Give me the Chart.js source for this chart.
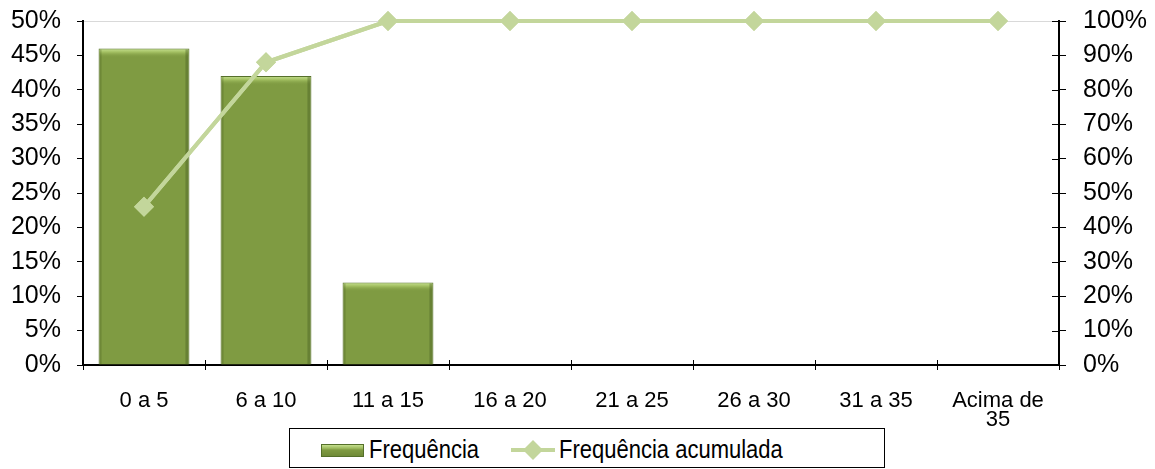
<!DOCTYPE html>
<html>
<head>
<meta charset="utf-8">
<script src="https://cdn.jsdelivr.net/npm/chart.js@4.4.1/dist/chart.umd.min.js"></script>
<style>
  html, body { margin: 0; padding: 0; background: #fff; }
  #wrap { position: relative; width: 1155px; height: 469px; }
  #legend {
    position: absolute; left: 289px; top: 428px; width: 596px; height: 40px;
    border: 1px solid #000; box-sizing: border-box; background: #fff;
    font-family: "Liberation Sans", Arial, sans-serif; font-size: 22px; color: #000;
  }
  #legend span { position: absolute; top: 10px; line-height: 22px; transform: scaleY(1.15); transform-origin: left center; }
  .swBar {
    position: absolute; left: 31px; top: 15px; width: 43px; height: 13px;
    background: linear-gradient(#c5e08e 0, #9dba5e 30%, #7f9b42 45%, #6f8a37 100%);
    border: 1px solid #55702a; box-sizing: border-box;
  }
</style>
</head>
<body>
<div id="wrap">
  <canvas id="myChart" width="1155" height="469"></canvas>
  <div id="legend">
    <div class="swBar"></div>
    <span style="left:79px">Frequência</span>
    <svg style="position:absolute;left:221px;top:10px" width="44" height="22">
      <line x1="0" y1="11" x2="44" y2="11" stroke="#c3d69b" stroke-width="4"/>
      <polygon points="22,1 32,11 22,21 12,11" fill="#c3d69b"/>
    </svg>
    <span style="left:269px">Frequência acumulada</span>
  </div>
</div>
<script>
const categories = ['0 a 5', '6 a 10', '11 a 15', '16 a 20', '21 a 25', '26 a 30', '31 a 35', ['Acima de', '35']];
const frequencia = [46, 42, 12, 0, 0, 0, 0, 0];
const acumulada = [46, 88, 100, 100, 100, 100, 100, 100];

const font = { family: '"Liberation Sans", Arial, sans-serif', size: 25 };
const xFont = { family: '"Liberation Sans", Arial, sans-serif', size: 22, lineHeight: 0.88 };

// little bevel on top of each bar + ticks that cross the axes
const extras = {
    id: 'extras',
    afterDatasetsDraw(chart) {
        const ctx = chart.ctx;
        const meta = chart.getDatasetMeta(0);
        meta.data.forEach((bar, i) => {
            if (!frequencia[i]) return;
            const left = bar.x - bar.width / 2 + 1;
            const w = bar.width - 2;
            const g = ctx.createLinearGradient(0, bar.y, 0, bar.y + 9);
            g.addColorStop(0, '#c8e393');
            g.addColorStop(0.4, '#a3c062');
            g.addColorStop(1, 'rgba(127,155,66,0)');
            ctx.save();
            ctx.fillStyle = g;
            ctx.fillRect(left, bar.y + 1, w, 9);
            ctx.fillStyle = 'rgba(60,80,25,0.35)';
            ctx.fillRect(bar.x + bar.width / 2 - 4, bar.y + 1, 3, bar.base - bar.y - 1);
            ctx.fillStyle = 'rgba(60,80,25,0.25)';
            ctx.fillRect(left, bar.y + 1, 2, bar.base - bar.y - 1);
            ctx.restore();
        });
        // line over bars again so it stays on top of the bevels
        chart.getDatasetMeta(1).controller.draw();
    },
    afterDraw(chart) {
        const ctx = chart.ctx;
        const area = chart.chartArea;
        const x = chart.scales.x;
        const yr = chart.scales.y1;
        ctx.save();
        ctx.strokeStyle = '#000';
        ctx.lineWidth = 1;
        ctx.beginPath();
        const step = (area.right - area.left) / categories.length;
        for (let i = 0; i <= categories.length; i++) {
            const px = Math.round(x.getPixelForValue(i) - step / 2) + 0.5;
            ctx.moveTo(px, area.bottom - 5);
            ctx.lineTo(px, area.bottom);
        }
        yr.ticks.forEach((t) => {
            const py = Math.round(yr.getPixelForValue(t.value)) + 0.5;
            ctx.moveTo(area.right - 7, py);
            ctx.lineTo(area.right, py);
        });
        ctx.stroke();
        ctx.restore();
    }
};

new Chart(document.getElementById('myChart').getContext('2d'), {
    type: 'bar',
    data: {
        labels: categories,
        datasets: [
            {
                label: 'Frequência',
                data: frequencia,
                backgroundColor: '#7f9b42',
                borderColor: '#56702b',
                borderWidth: (c) => (c.raw ? 1 : 0),
                barPercentage: 0.745,
                categoryPercentage: 1,
                yAxisID: 'y',
                order: 2,
            },
            {
                label: 'Frequência acumulada',
                type: 'line',
                data: acumulada,
                borderColor: '#c3d69b',
                backgroundColor: '#c3d69b',
                borderWidth: 4,
                pointStyle: 'rectRot',
                pointRadius: 10,
                pointHoverRadius: 10,
                pointBorderWidth: 0,
                clip: false,
                yAxisID: 'y1',
                order: 1,
            },
        ],
    },
    options: {
        responsive: false,
        animation: false,
        layout: { padding: { top: 21, left: 0, right: 0, bottom: 0 } },
        plugins: {
            legend: { display: false },
            tooltip: { enabled: false },
        },
        scales: {
            x: {
                offset: true,
                grid: { display: true, drawOnChartArea: false, offset: true, tickLength: 5, tickColor: '#000' },
                border: { color: '#000', width: 2 },
                ticks: { color: '#000', font: xFont, padding: 21, maxRotation: 0, autoSkip: false },
                afterFit: (s) => { s.height = 104; },
            },
            y: {
                position: 'left',
                min: 0,
                max: 50,
                ticks: { stepSize: 5, color: '#000', font: font, padding: 16, callback: (v) => v + '%' },
                grid: {
                    color: (c) => (c.tick && c.tick.value === 50 ? '#d9d9d9' : 'rgba(0,0,0,0)'),
                    tickColor: '#000',
                    tickLength: 6,
                },
                border: { color: '#000', width: 2 },
                afterFit: (s) => { s.width = 83; s.paddingTop = 0; },
            },
            y1: {
                position: 'right',
                min: 0,
                max: 100,
                ticks: { stepSize: 10, color: '#000', font: font, padding: 17, callback: (v) => v + '%' },
                grid: { drawOnChartArea: false, tickColor: '#000', tickLength: 7 },
                border: { color: '#000', width: 2 },
                afterFit: (s) => { s.width = 96; s.paddingTop = 0; },
            },
        },
    },
    plugins: [extras],
});
</script>
</body>
</html>
